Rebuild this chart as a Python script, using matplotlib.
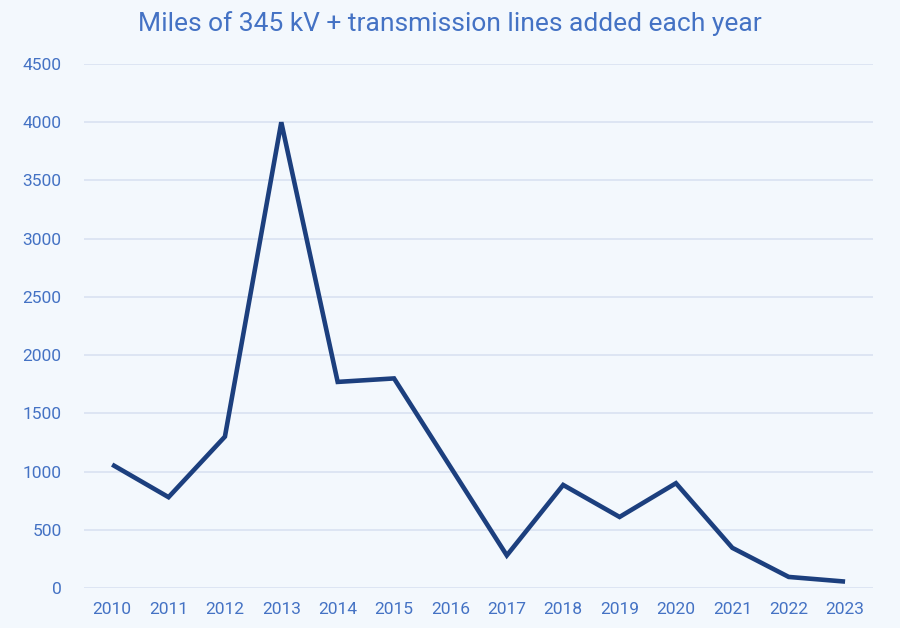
import matplotlib
matplotlib.use('Agg')
import matplotlib.pyplot as plt

# data
years = ['2010', '2011', '2012', '2013', '2014', '2015', '2016',
         '2017', '2018', '2019', '2020', '2021', '2022', '2023']
miles = [1060, 780, 1300, 4000, 1770, 1800, 1040,
         280, 885, 610, 900, 345, 95, 55]
yticks = [0, 500, 1000, 1500, 2000, 2500, 3000, 3500, 4000, 4500]

bg = '#F3F8FD'
txt = '#4472C4'
line_c = '#1C3F7E'
grid_c = '#D9E2F1'

plt.rcParams['font.family'] = ['Roboto', 'DejaVu Sans']

fig = plt.figure(figsize=(9, 6.28), dpi=100, facecolor=bg)
ax = fig.add_axes([0.0933, 0.0637, 0.877, 0.8343])
ax.set_facecolor(bg)

x = list(range(len(years)))
ax.plot(x, miles, color=line_c, lw=3.3, solid_joinstyle='miter', solid_capstyle='butt')

ax.set_xlim(-0.5, len(years) - 0.5)
ax.set_ylim(0, 4500)
ax.set_yticks(yticks)
ax.set_yticklabels([str(t) for t in yticks])
ax.set_xticks(x)
ax.set_xticklabels(years)
ax.yaxis.grid(True, color=grid_c, lw=1.2)
ax.set_axisbelow(True)
for s in ax.spines.values():
    s.set_visible(False)
ax.tick_params(length=0, colors=txt, labelsize=12.5)
ax.tick_params(axis='y', pad=16)
ax.tick_params(axis='x', pad=10)

fig.text(0.5, 0.962, 'Miles of 345 kV + transmission lines added each year',
         ha='center', va='center', color=txt, fontsize=19)

fig.savefig('out.png', dpi=100, facecolor=bg)
